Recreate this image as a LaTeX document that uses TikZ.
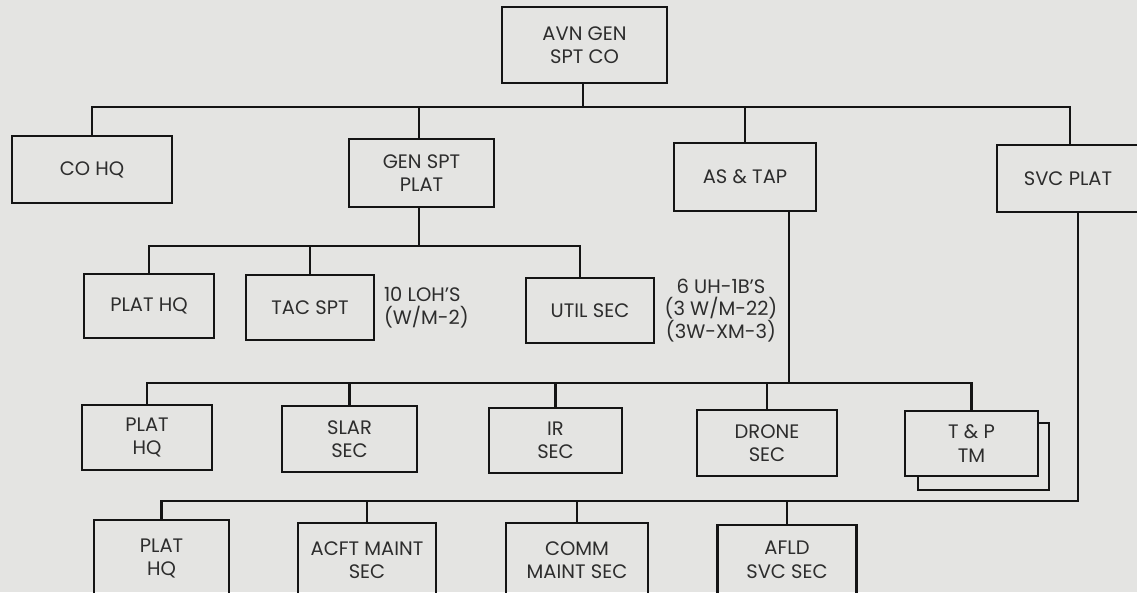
\documentclass[tikz,border=0pt]{standalone}
\usepackage{fontspec}
\setmainfont{Poppins}
\usetikzlibrary{calc}
\definecolor{bg}{RGB}{228,228,226}
\definecolor{ink}{RGB}{20,20,20}
\definecolor{txt}{RGB}{45,45,45}
\begin{document}
\begin{tikzpicture}[x=1pt,y=-1pt,
  box/.style={draw=ink,line width=2.9pt,rectangle,inner sep=0pt,outer sep=0pt,align=center,text=txt,font=\fontsize{19.5}{23.5}\selectfont},
  conn/.style={draw=ink,line width=2.9pt},
  lbl/.style={inner sep=0pt,outer sep=0pt,text=txt,font=\fontsize{19.5}{22.5}\selectfont}]
\fill[bg] (0,0) rectangle (1137,592);
\useasboundingbox (0,0) rectangle (1137,592);
\clip (0,0) rectangle (1137,592);
% row 0
\node[box,minimum width=165pt,minimum height=76pt] (avn) at (584.5,45) {AVN GEN\\SPT CO};
% row 1
\node[box,minimum width=160pt,minimum height=67pt] (cohq) at (92,169.5) {CO HQ};
\node[box,minimum width=145pt,minimum height=68pt] (gen) at (421.5,173) {GEN SPT\\PLAT};
\node[box,minimum width=142pt,minimum height=68pt] (astap) at (745,177) {AS \& TAP};
\node[box,minimum width=142pt,minimum height=67pt] (svc) at (1068,178.5) {SVC PLAT};
% row 2
\node[box,minimum width=130pt,minimum height=64pt] (ph2) at (149,306) {PLAT HQ};
\node[box,minimum width=128pt,minimum height=65pt] (tac) at (310,307.5) {TAC SPT};
\node[box,minimum width=128pt,minimum height=65pt] (util) at (590,310.5) {UTIL SEC};
\node[lbl,anchor=west,align=left] (loh) at (384,307.5) {10 LOH'S\\(W/M-2)};
\node[lbl,align=center] (uh) at (721,310.5) {6 UH-1B'S\\(3 W/M-22)\\(3W-XM-3)};
% row 3
\node[box,minimum width=130pt,minimum height=65pt] (ph3) at (147,437.5) {PLAT\\HQ};
\node[box,minimum width=135pt,minimum height=66pt] (slar) at (349.5,439) {SLAR\\SEC};
\node[box,minimum width=133pt,minimum height=65pt] (ir) at (555.5,440.5) {IR\\SEC};
\node[box,minimum width=140pt,minimum height=66pt] (drone) at (767,443) {DRONE\\SEC};
\node[box,minimum width=133pt,minimum height=65pt] (tp) at (971.5,443.5) {T \& P\\TM};
% row 4
\node[box,minimum width=135pt,minimum height=77pt] (ph4) at (161.5,558.5) {PLAT\\HQ};
\node[box,minimum width=138pt,minimum height=74pt] (acft) at (367,560) {ACFT MAINT\\SEC};
\node[box,minimum width=142pt,minimum height=74pt] (comm) at (577,560) {COMM\\MAINT SEC};
\node[box,minimum width=139pt,minimum height=70pt] (afld) at (787,560) {AFLD\\SVC SEC};
% bar levels and stem positions
\coordinate (b1) at (0,107);
\coordinate (b2) at (0,246);
\coordinate (b3) at (0,383);
\coordinate (b4) at (0,501);
\coordinate (xa) at (583,0);
\coordinate (xg) at (419,0);
\coordinate (xu) at (580,0);
\coordinate (xt) at (789,0);
\coordinate (xs1) at (1070,0);
\coordinate (xs2) at (1078,0);
% row 0 -> row 1
\draw[conn] (avn.south -| xa) -- (b1 -| xa);
\draw[conn] (cohq.north) -- (cohq.north |- b1) -- (b1 -| xs1) -- (svc.north -| xs1);
\draw[conn] (gen.north -| xg) -- (b1 -| xg);
\draw[conn] (astap.north) -- (astap.north |- b1);
% gen -> row 2
\draw[conn] (gen.south -| xg) -- (b2 -| xg);
\draw[conn] (ph2.north) -- (ph2.north |- b2) -- (b2 -| xu) -- (util.north -| xu);
\draw[conn] (tac.north) -- (tac.north |- b2);
% as&tap -> row 3
\draw[conn] (astap.south -| xt) -- (b3 -| xt);
\draw[conn] (ph3.north) -- (ph3.north |- b3) -- (b3 -| tp.north) -- (tp.north);
\draw[conn] (slar.north) -- (slar.north |- b3);
\draw[conn] (ir.north) -- (ir.north |- b3);
\draw[conn] (drone.north) -- (drone.north |- b3);
% T&P second sheet
\draw[conn] ($(tp.north east)+(0,12)$) -- ++(11,0) |- ($(tp.south west)+(13,14)$) -- ++(0,-14);
% svc -> row 4
\draw[conn] (svc.south -| xs2) -- (b4 -| xs2) -- (b4 -| ph4.north) -- (ph4.north);
\draw[conn] (acft.north) -- (acft.north |- b4);
\draw[conn] (comm.north) -- (comm.north |- b4);
\draw[conn] (afld.north) -- (afld.north |- b4);
\end{tikzpicture}
\end{document}
